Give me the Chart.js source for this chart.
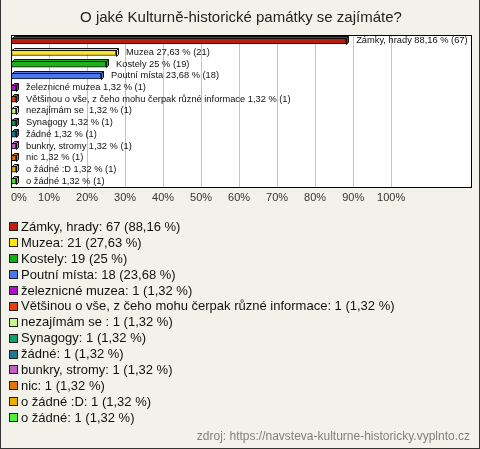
<!DOCTYPE html>
<html><head><meta charset="utf-8">
<script src="https://cdn.jsdelivr.net/npm/chart.js@4"></script>
<style>
html,body{margin:0;padding:0;}
body{width:480px;height:449px;background:#f3f2ea;position:relative;overflow:hidden;font-family:"Liberation Sans",Arial,sans-serif;}
#frame{position:absolute;left:0;top:0;width:478px;height:448px;border-left:1px solid #333;border-right:1px solid #333;border-bottom:1px solid #333;}
#c{position:absolute;left:0;top:0;}
#legend{position:absolute;left:9px;top:219px;font-size:13px;color:#111;}
.row{height:15.9px;line-height:15.9px;white-space:pre;display:flex;align-items:center;}
.box{width:7px;height:7px;border:1px solid #222;margin-right:3px;flex:none;}
#src{position:absolute;right:10px;top:429px;font-size:12px;color:#808080;}
</style></head>
<body>
<div id="frame"></div>
<canvas id="c" width="480" height="449"></canvas>
<div id="legend"></div>
<div id="src">zdroj: https://navsteva-kulturne-historicky.vyplnto.cz</div>
<script>
const categories = ["Zámky, hrady","Muzea","Kostely","Poutní místa","železnicné muzea","Většinou o vše, z čeho mohu čerpak různé informace","nezajímám se ","Synagogy","žádné","bunkry, stromy","nic","o žádné :D","o žádné"];
const counts = [67,21,19,18,1,1,1,1,1,1,1,1,1];
const percents = [88.16,27.63,25,23.68,1.32,1.32,1.32,1.32,1.32,1.32,1.32,1.32,1.32];
const colors = ["#b81c0c","#f8e42a","#20b020","#4a78e8","#b01cc0","#e0400c","#c4f488","#109060","#207888","#c060c0","#e07010","#e0b000","#50e030"];
const legendColors = ["#c0200c","#ffe800","#10b010","#4a78f0","#b010c8","#e84008","#c4f888","#10a070","#207890","#c060c0","#e07808","#e8b000","#50f040"];
const tickValues = [0,10,20,30,40,50,60,70,80,90,100];

const fmt = v => String(v).replace('.', ',');
const DEPTH = 2;

const frameBg = {
  id:'frameBg',
  beforeDraw(chart){
    const {ctx, chartArea:a} = chart;
    ctx.save(); ctx.fillStyle='#ffffff';
    ctx.fillRect(a.left,a.top,a.right-a.left,a.bottom-a.top); ctx.restore();
  },
  afterDraw(chart){
    const {ctx, chartArea:a} = chart;
    ctx.save(); ctx.strokeStyle='#000'; ctx.lineWidth=1;
    ctx.strokeRect(Math.round(a.left)+0.5,Math.round(a.top)+0.5,Math.round(a.right-a.left),Math.round(a.bottom-a.top)); ctx.restore();
  }
};
// 3D depth faces for each bar, from the bar elements' own geometry
const bar3d = {
  id:'bar3d',
  afterDatasetsDraw(chart){
    const {ctx} = chart;
    const meta = chart.getDatasetMeta(0);
    ctx.save(); ctx.lineWidth=1; ctx.strokeStyle='#111';
    meta.data.forEach((el,i)=>{
      const x0 = Math.round(el.base)+0.5, x1 = Math.round(el.x)+0.5;
      const y0 = Math.round(el.y - el.height/2)+0.5, y1 = Math.round(el.y + el.height/2)+0.5;
      ctx.fillStyle = colors[i];
      ctx.beginPath();
      ctx.moveTo(x0,y0); ctx.lineTo(x0+DEPTH,y0-DEPTH); ctx.lineTo(x1+DEPTH,y0-DEPTH); ctx.lineTo(x1+DEPTH,y1-DEPTH); ctx.lineTo(x1,y1); ctx.lineTo(x1,y0); ctx.closePath();
      ctx.fill(); ctx.stroke();
      ctx.beginPath(); ctx.moveTo(x1,y0); ctx.lineTo(x1+DEPTH,y0-DEPTH); ctx.stroke();
    });
    ctx.restore();
  }
};
const barLabels = {
  id:'barLabels',
  afterDatasetsDraw(chart){
    const {ctx} = chart;
    const meta = chart.getDatasetMeta(0);
    ctx.save();
    ctx.font = '9.3px "Liberation Sans", Arial, sans-serif';
    ctx.fillStyle = '#111'; ctx.textBaseline='middle'; ctx.textAlign='left';
    meta.data.forEach((el,i)=>{
      ctx.fillText(categories[i]+' '+fmt(percents[i])+' % ('+counts[i]+')', el.x+10, el.y);
    });
    ctx.restore();
  }
};

new Chart(document.getElementById('c'), {
  type:'bar',
  data:{ labels: categories, datasets:[{ data: percents, backgroundColor: colors, borderColor:'#111', borderWidth:1, barThickness:6, borderSkipped:false }]},
  options:{
    indexAxis:'y', responsive:false, animation:false,
    layout:{ padding:{ left:11, right:9, top:0, bottom:239 } },
    plugins:{
      legend:{display:false}, tooltip:{enabled:false},
      title:{ display:true, text:'O jaké Kulturně-historické památky se zajímáte?', color:'#222',
        font:{ family:'"Liberation Sans", Arial, sans-serif', size:15, weight:'normal', lineHeight:1.2 }, padding:{top:9,bottom:8} }
    },
    scales:{
      y:{ display:false },
      x:{ min:0, max:121, border:{display:false},
        afterBuildTicks(s){ s.ticks = tickValues.concat([121]).map(v=>({value:v})); },
        grid:{ drawTicks:false, color: c => (c.tick && c.tick.value>100) ? 'transparent' : '#c4c4c4' },
        ticks:{ align:'inner', padding:5, color:'#333', font:{ family:'"Liberation Sans", Arial, sans-serif', size:11 },
          callback:(v)=> v>100 ? '' : v+'%' } }
    }
  },
  plugins:[frameBg, bar3d, barLabels]
});

const lg = document.getElementById('legend');
categories.forEach((c,i)=>{
  const r = document.createElement('div'); r.className='row';
  const b = document.createElement('span'); b.className='box'; b.style.background=legendColors[i];
  const t = document.createElement('span'); t.textContent = c+': '+counts[i]+' ('+fmt(percents[i])+' %)';
  r.appendChild(b); r.appendChild(t); lg.appendChild(r);
});
</script>
</body></html>
